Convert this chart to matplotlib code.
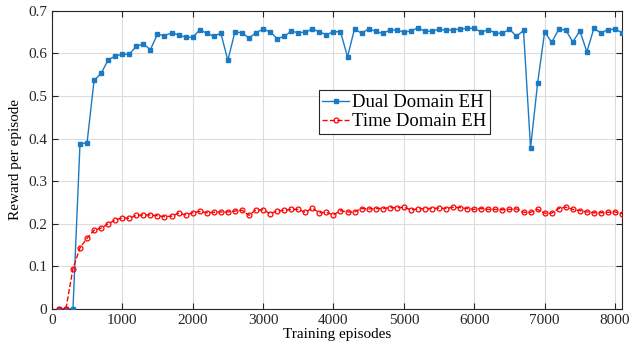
import matplotlib
matplotlib.use("Agg")
from matplotlib import pyplot as plt
import numpy as np

plt.rcParams['font.family'] = ['Liberation Serif', 'DejaVu Serif']
plt.rcParams['mathtext.fontset'] = 'stix'

episodes = np.arange(100, 8200, 100)

dual = [0, 0, 0, 0.388, 0.390, 0.537, 0.553, 0.585, 0.594, 0.598,
        0.598, 0.617, 0.622, 0.609, 0.645, 0.642, 0.648, 0.644, 0.638, 0.638,
        0.655, 0.648, 0.640, 0.648, 0.584, 0.650, 0.649, 0.636, 0.649, 0.657,
        0.651, 0.635, 0.640, 0.652, 0.649, 0.650, 0.657, 0.651, 0.644, 0.651,
        0.651, 0.592, 0.658, 0.647, 0.658, 0.652, 0.647, 0.655, 0.655, 0.650,
        0.653, 0.660, 0.652, 0.652, 0.657, 0.654, 0.656, 0.657, 0.659, 0.659,
        0.650, 0.656, 0.648, 0.647, 0.657, 0.640, 0.654, 0.378, 0.530, 0.651,
        0.626, 0.657, 0.655, 0.627, 0.653, 0.604, 0.659, 0.648, 0.656, 0.657,
        0.649]

time = [0, 0, 0.095, 0.144, 0.166, 0.185, 0.190, 0.200, 0.209, 0.214,
        0.213, 0.220, 0.221, 0.221, 0.219, 0.217, 0.218, 0.225, 0.221, 0.226,
        0.229, 0.226, 0.227, 0.228, 0.228, 0.230, 0.232, 0.220, 0.233, 0.233,
        0.224, 0.230, 0.232, 0.234, 0.234, 0.227, 0.237, 0.226, 0.227, 0.221,
        0.231, 0.228, 0.228, 0.236, 0.235, 0.236, 0.236, 0.238, 0.238, 0.239,
        0.233, 0.235, 0.236, 0.236, 0.237, 0.236, 0.239, 0.238, 0.236, 0.234,
        0.236, 0.234, 0.234, 0.233, 0.234, 0.235, 0.227, 0.227, 0.234, 0.225,
        0.225, 0.236, 0.239, 0.234, 0.231, 0.228, 0.226, 0.226, 0.227, 0.228,
        0.224]

fig, ax = plt.subplots(figsize=(6.4, 3.5), dpi=100)
fig.subplots_adjust(left=0.081, right=0.972, top=0.969, bottom=0.117)

ax.plot(episodes, dual, color='#1a7ac4', lw=1, marker='s', ms=2.5,
        label='Dual Domain EH', zorder=3)
ax.plot(episodes, time, color='r', lw=1, ls='--', marker='o', ms=3.5,
        mfc='none', mew=0.9, label='Time Domain EH', zorder=3)

ax.set_xlim(0, 8100)
ax.set_ylim(0, 0.7)
ax.set_xticks(np.arange(0, 8001, 1000))
ax.set_yticks(np.arange(0, 0.71, 0.1))
ax.set_yticklabels(['0', '0.1', '0.2', '0.3', '0.4', '0.5', '0.6', '0.7'])
ax.grid(True, color='#dcdcdc', lw=0.8)
ax.set_axisbelow(True)
ax.tick_params(direction='in', top=True, right=True, labelsize=11,
               colors='#262626', length=4)
for s in ax.spines.values():
    s.set_color('#262626')
    s.set_linewidth(0.8)

ax.set_xlabel('Training episodes', fontsize=11, labelpad=1)
ax.set_ylabel('Reward per episode', fontsize=11, labelpad=4)

leg = ax.legend(loc='upper left', bbox_to_anchor=(0.468, 0.733), fontsize=13.5,
                fancybox=False, edgecolor='#262626', framealpha=1,
                handlelength=1.4, handletextpad=0.2, borderpad=0.2,
                labelspacing=0.1, borderaxespad=0)
leg.get_frame().set_linewidth(0.8)

plt.savefig('out.png')
